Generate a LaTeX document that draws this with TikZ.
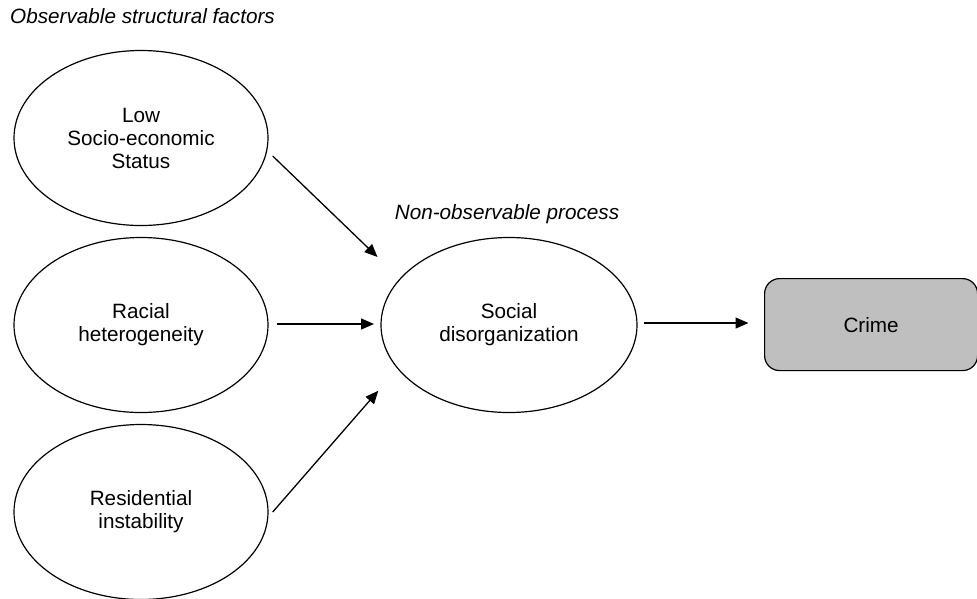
\documentclass[tikz,border=0pt]{standalone}
\usepackage{fontspec}
\setmainfont{Liberation Sans}
\usetikzlibrary{shapes.geometric,arrows.meta}
\definecolor{crimefill}{RGB}{191,191,191}
\tikzset{
  factor/.style={draw=black, line width=1.2pt, ellipse, inner sep=0pt,
    minimum width=254pt, minimum height=175pt, align=center,
    font=\fontsize{20.7pt}{23pt}\selectfont},
  outcome/.style={draw=black, line width=1.2pt, rectangle, rounded corners=15pt,
    fill=crimefill, minimum width=213pt, minimum height=92pt, inner sep=0pt,
    font=\fontsize{20.7pt}{23pt}\selectfont},
  caption/.style={inner sep=0pt, font=\fontsize{20.7pt}{23pt}\selectfont\itshape},
  link/.style={line width=1.3pt, -{Triangle[length=13pt,width=11pt]}}
}
\begin{document}
\begin{tikzpicture}[x=1pt,y=-1pt]
\useasboundingbox (0,0) rectangle (977,598);
\node[caption, anchor=base west] (obs) at (10,23.3) {Observable structural factors};
\node[caption, anchor=base] (nonobs) at (507,219.3) {Non-observable process};
\node[factor] (ses) at (141,138) {Low\\Socio-economic\\Status};
\node[factor] (race) at (141,325) {Racial\\heterogeneity};
\node[factor] (res) at (141,512) {Residential\\instability};
\node[factor, minimum width=256pt] (soc) at (509,325) {Social\\disorganization};
\node[outcome, anchor=north west] (crime) at (764,278) {Crime};
\coordinate (a1s) at (272.7,156);
\coordinate (a1e) at (377.5,257);
\coordinate (a2s) at (276.7,324);
\coordinate (a2e) at (374,324);
\coordinate (a3s) at (272.7,512);
\coordinate (a3e) at (378.3,390.7);
\coordinate (a4s) at (644,323);
\coordinate (a4e) at (748.5,323);
\draw[link] (a1s) -- (a1e);
\draw[link] (a2s) -- (a2e);
\draw[link] (a3s) -- (a3e);
\draw[link] (a4s) -- (a4e);
\end{tikzpicture}
\end{document}
